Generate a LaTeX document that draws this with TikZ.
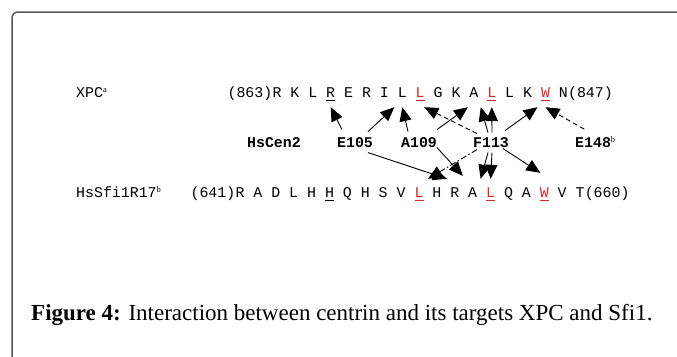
\documentclass[tikz,border=0pt]{standalone}
\usepackage{fontspec}
\setmainfont{Liberation Serif}
\setmonofont{Liberation Mono}
\usetikzlibrary{arrows.meta,calc}
\definecolor{seqred}{RGB}{214,40,40}
\definecolor{framegray}{RGB}{85,85,85}
\newcommand\supmark[1]{\raisebox{5pt}{\fontsize{8.5}{9}\selectfont\rmfamily\mdseries #1}}
\begin{document}
\begin{tikzpicture}[x=1pt,y=-1pt,
  seqfont/.style={font=\fontsize{14.9}{16}\selectfont\ttfamily},
  res/.style={seqfont,inner sep=0pt,anchor=base},
  toprow/.style={res,text height=9pt,text depth=10pt},
  botrow/.style={res,text height=18pt,text depth=3pt},
  lbl/.style={seqfont,inner sep=0pt,anchor=base west},
  site/.style={font=\fontsize{14.9}{16}\selectfont\ttfamily\bfseries,inner sep=2pt,anchor=base},
  link/.style={line width=0.9pt,-{Triangle[length=14pt,width=12pt]}},
  dashlink/.style={link,dash pattern=on 5pt off 3pt},
  dotlink/.style={link,dash pattern=on 6pt off 2.5pt on 1.5pt off 2.5pt},
  uline/.style={line width=0.8pt}
]
\useasboundingbox (0,0) rectangle (677,356);
\draw[framegray,line width=1.5pt,rounded corners=6pt] (12,360) -- (12,12) -- (680,12);

% row labels
\node[lbl] (xpc) at (76,97) {XPC\supmark{a}};
\node[lbl] (sfi) at (76,197) {HsSfi1R17\supmark{b}};

% top sequence
\foreach \l/\c [count=\i from 0] in {R/black,K/black,L/black,R/black,E/black,R/black,I/black,L/black,L/seqred,G/black,K/black,A/black,L/seqred,L/black,K/black,W/seqred,N/black}
  \node[toprow,text=\c] (t\i) at ({277+17.9*\i},97) {\l};
\node[res,anchor=base east] (tstart) at ($(t0.base)+(-4.5,0)$) {(863)};
\node[res,anchor=base west] (tend) at ($(t16.base)+(4.5,0)$) {(847)};

% bottom sequence
\foreach \l/\c [count=\i from 0] in {R/black,A/black,D/black,L/black,H/black,H/black,Q/black,H/black,S/black,V/black,L/seqred,H/black,R/black,A/black,L/seqred,Q/black,A/black,W/seqred,V/black,T/black}
  \node[botrow,text=\c] (b\i) at ({240+17.9*\i},197) {\l};
\node[res,anchor=base east] (bstart) at ($(b0.base)+(-4.5,0)$) {(641)};
\node[res,anchor=base west] (bend) at ($(b19.base)+(4.5,0)$) {(660)};

% underlines
\foreach \n/\c in {t3/black,t8/seqred,t12/seqred,t15/seqred,b5/black,b10/seqred,b14/seqred,b17/seqred}
  \draw[uline,\c] ($(\n.base)+(-4.5,3)$) -- ($(\n.base)+(4.5,3)$);

% centrin residues
\node[site] (hscen) at (274,147.5) {HsCen2};
\node[site] (e105) at (355,147.5) {E105};
\node[site] (a109) at (419,147.5) {A109};
\node[site] (f113) at (491,147.5) {F113};
\node[site,anchor=base west] (e148) at (573,147.5) {E148\supmark{b}};

% contacts with XPC
\draw[link] ($(e105)+(-13,-13)$) -- (t3.south);
\draw[link] ($(e105)+(13,-11)$) -- ([xshift=-8pt]t7.south);
\draw[link] ($(a109)+(-11,-11)$) -- (t7.south);
\draw[link] ($(a109)+(18,-13)$) -- ([xshift=-6pt]t11.south);
\draw[dashlink] ($(f113)+(-14,-9)$) -- ([xshift=4pt]t8.south);
\draw[link] ($(f113)+(-3,-10)$) -- ([xshift=-11pt]t12.south);
\draw[link] ($(f113)+(1,-10)$) -- (t12.south);
\draw[link] ($(f113)+(14,-12)$) -- ([xshift=-8pt]t15.south);
\draw[dashlink] ($(e148)+(-11,-13)$) -- (t15.south);

% contacts with Sfi1
\draw[link] ($(e105)+(13,10)$) -- ([xshift=10pt]b11.north);
\draw[dotlink] ($(f113)+(-14,7)$) -- ([xshift=9pt]b10.north);
\draw[link] ($(a109)+(18,5)$) -- ([xshift=8pt,yshift=3pt]b12.north);
\draw[link] ($(f113)+(-3,10)$) -- ([xshift=-10pt]b14.north);
\draw[link] ($(f113)+(1,10)$) -- (b14.north);
\draw[link] ($(f113)+(12,6)$) -- ([xshift=-4pt,yshift=6pt]b17.north);

% caption
\node[anchor=base west,inner sep=0pt,font=\fontsize{23}{26}\selectfont] (cap) at (31,320)
  {\textbf{Figure 4:} Interaction between centrin and its targets XPC and Sfi1.};
\end{tikzpicture}
\end{document}
